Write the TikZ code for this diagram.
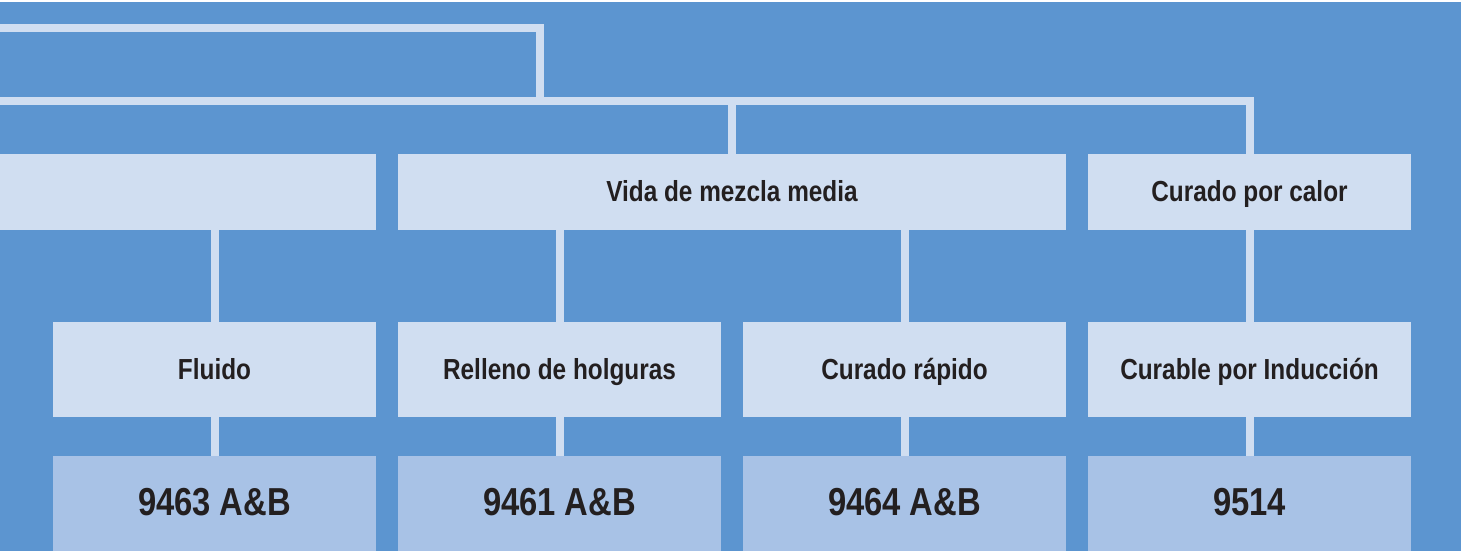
\documentclass[tikz,border=0pt]{standalone}
\usepackage{fontspec}
\setmainfont[FakeStretch=0.84]{Liberation Sans}
\definecolor{bgblue}{HTML}{5C95D0}
\definecolor{lightbox}{HTML}{D0DEF1}
\definecolor{midbox}{HTML}{A8C2E6}
\definecolor{txt}{HTML}{231F20}
\begin{document}
\begin{tikzpicture}[x=1pt,y=-1pt,
  box/.style={fill=lightbox, draw=none, inner sep=0pt, outer sep=0pt, text=txt, font=\bfseries\fontsize{29}{30}\selectfont, align=center},
  rowone/.style={box, minimum height=76pt, text height=20pt, text depth=2pt},
  rowtwo/.style={box, minimum width=323pt, minimum height=95pt, text height=21pt, text depth=2pt},
  rowthree/.style={box, fill=midbox, minimum width=323pt, minimum height=95pt, font=\bfseries\fontsize{39}{40}\selectfont, text height=28pt, text depth=5pt},
  conn/.style={draw=lightbox, line width=8pt, line join=miter}
]
\useasboundingbox (0,0) rectangle (1461,551);
\fill[white] (0,0) rectangle (1461,2);
\fill[bgblue] (0,2) rectangle (1461,551);

% row 1
\node[rowone, minimum width=376pt] (a) at (188,192) {};
\node[rowone, minimum width=668pt] (v) at (732,192) {Vida de mezcla media};
\node[rowone, minimum width=323pt] (c) at (1249.5,192) {Curado por calor};

% row 2
\node[rowtwo] (f) at (214.5,369.5) {Fluido};
\node[rowtwo] (r) at (559.5,369.5) {Relleno de holguras};
\node[rowtwo] (q) at (904.5,369.5) {Curado rápido};
\node[rowtwo] (i) at (1249.5,369.5) {Curable por Inducción};

% row 3
\node[rowthree] (p1) at (214.5,503.5) {9463 A\&B};
\node[rowthree] (p2) at (559.5,503.5) {9461 A\&B};
\node[rowthree] (p3) at (904.5,503.5) {9464 A\&B};
\node[rowthree] (p4) at (1249.5,503.5) {9514};

% tree lines at top
\coordinate (t0) at (0,28);
\coordinate (tc) at (540,28);
\coordinate (s0) at (0,100.5);
\coordinate (sj) at (540,100.5);
\coordinate (sv) at (732,100.5);
\coordinate (se) at (1249.5,100.5);

\draw[conn] (t0) -- (tc) -- (sj);
\draw[conn] (s0) -- (se) -- (c.north);
\draw[conn] (sv) -- (v.north);

% row 1 to row 2
\draw[conn] (f.north |- a.south) -- (f.north);
\draw[conn] (r.north |- v.south) -- (r.north);
\draw[conn] (q.north |- v.south) -- (q.north);
\draw[conn] (c.south) -- (i.north);

% row 2 to row 3
\draw[conn] (f.south) -- (p1.north);
\draw[conn] (r.south) -- (p2.north);
\draw[conn] (q.south) -- (p3.north);
\draw[conn] (i.south) -- (p4.north);
\end{tikzpicture}
\end{document}
